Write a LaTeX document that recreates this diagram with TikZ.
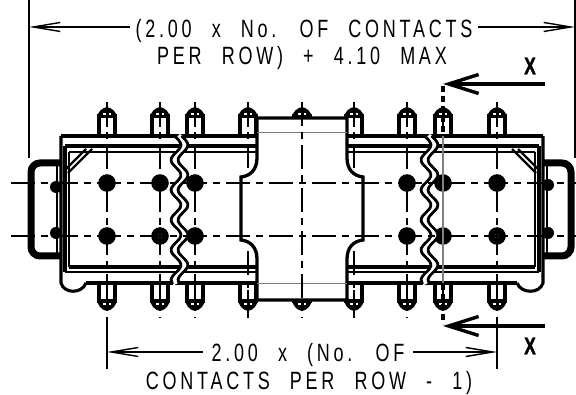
\documentclass[tikz,border=0pt]{standalone}
\usepackage{fontspec}
\usetikzlibrary{arrows.meta}
\setmainfont{Liberation Sans}[FakeStretch=0.72,LetterSpace=15,WordSpace=2.3]
\newfontfamily\boldx{Liberation Sans Bold}[FakeStretch=0.72,FakeBold=1.5]
\tikzset{
  label text/.style={font=\fontsize{25}{25}\selectfont,inner ysep=0pt,inner xsep=5pt,text depth=0pt},
  section letter/.style={font=\boldx\fontsize{24}{24}\selectfont,inner sep=0pt},
  dimline/.style={line width=1.5pt,-{Straight Barb[length=27pt,width=9pt,line width=1.4pt]}},
  extline/.style={line width=1.8pt},
  sectarrow/.style={line width=3.4pt,-{Straight Barb[length=30pt,width=19pt,line width=3.4pt]}},
  sectline/.style={line width=3.2pt,dash pattern=on 6pt off 4pt},
  centre/.style={line width=1.7pt,dash pattern=on 24pt off 6pt on 7pt off 6pt},
  heavy/.style={line width=3.1pt},
  medium/.style={line width=2.4pt},
  wave/.style={line width=2.8pt},
  latch/.style={line width=7pt,rounded corners=9pt},
}
\newcommand{\wavepath}[2]{plot[smooth,domain=136:284,samples=34,variable=\t]({#1+5*sin(12*(\t-167.5))+#2},\t)}
\begin{document}
\begin{tikzpicture}[x=1pt,y=-1pt]
\useasboundingbox (0,0) rectangle (576,395);
\fill[white] (0,0) rectangle (576,395);

% pins
\foreach \px in {107,160,195,248,302,354,407,443,497}{
  \draw[heavy,fill=white] (\px-8,136) -- (\px-8,116) -- (\px+8,116) -- (\px+8,136);
  \fill (\px-9.5,117) .. controls (\px-9.5,112) and (\px-5,108) .. (\px,107) .. controls (\px+5,108) and (\px+9.5,112) .. (\px+9.5,117) -- cycle;
  \fill[white] (\px-4,113) rectangle (\px-1.5,115);
  \fill[white] (\px+1.5,113) rectangle (\px+4,115);
  \draw[heavy,fill=white] (\px-8,283) -- (\px-8,301) -- (\px+8,301) -- (\px+8,283);
  \fill (\px-9.5,300) .. controls (\px-9.5,306) and (\px-5,310) .. (\px,311) .. controls (\px+5,310) and (\px+9.5,306) .. (\px+9.5,300) -- cycle;
  \fill[white] (\px-4,303) rectangle (\px-1.5,305);
  \fill[white] (\px+1.5,303) rectangle (\px+4,305);
  \draw[line width=2pt] (\px,116) -- (\px,127);
  \draw[line width=2pt] (\px,290) -- (\px,301);
}

% housing
\draw[heavy] (61,136) -- (543,136);
\draw[heavy,line width=3.6pt] (65,146) -- (539,146);
\draw[medium] (69,152) -- (535,152);
\draw[heavy] (69,267) -- (535,267);
\draw[medium] (65,272) -- (539,272);
\draw[heavy] (86,283) -- (517,283);
\draw[heavy] (61,136) -- (61,283) .. controls (64,294) and (82,294) .. (86,283);
\draw[heavy] (543,136) -- (543,283) .. controls (540,294) and (521,294) .. (517,283);
\draw[heavy] (65,146) -- (65,272);
\draw[medium] (69,152) -- (69,267);
\draw[heavy] (539,146) -- (539,272);
\draw[medium] (535,152) -- (535,267);
\draw[medium] (92,149) -- (68,173);
\draw[medium] (86,149) -- (65,170);
\draw[medium] (512,149) -- (536,173);
\draw[medium] (518,149) -- (539,170);

% latches
\draw[latch] (61,163) -- (31,163) -- (31,256) -- (61,256);
\draw[latch] (543,163) -- (571,163) -- (571,256) -- (543,256);
\draw[medium] (57,162) -- (57,256);
\draw[medium] (547,162) -- (547,256);
\foreach \cx/\cy in {56/187,56/233,548/185,548/233} \fill (\cx,\cy) circle (6);

% holes
\foreach \px in {107,160,195,407,443,497}{
  \fill (\px,183) circle (8.8);
  \fill (\px,236) circle (8.8);
}
\fill[white] (160,236) circle (2);
\fill[white] (497,236) circle (2);

% break lines
\foreach \wx in {176,426}{
  \draw[white,line width=6pt] \wavepath{\wx}{3.5};
  \draw[wave] \wavepath{\wx}{0};
  \draw[wave] \wavepath{\wx}{7};
}

% centre block
\draw[heavy,fill=white,line width=3.3pt] (257,118) -- (257,158) .. controls (257,170) and (250,176) .. (241,177)
  -- (241,240) .. controls (250,241) and (257,247) .. (257,259) -- (257,300) -- (347,300) -- (347,259)
  .. controls (347,247) and (354,241) .. (363,240) -- (363,177) .. controls (354,176) and (347,170) .. (347,158)
  -- (347,118) -- cycle;
\draw[gray,line width=1pt] (257,133) -- (347,133);
\draw[gray,line width=1pt] (257,284) -- (347,284);

% centre lines
\draw[centre] (11,183) -- (576,183);
\draw[centre] (11,236) -- (576,236);
\foreach \px in {107,160,195,302,407,497}{
  \draw[centre] (\px,102) -- (\px,318);
}
\foreach \px in {248,354}{
  \draw[centre] (\px,102) -- (\px,168);
  \draw[centre] (\px,318) -- (\px,250);
}
\draw[gray,line width=1.5pt] (443,136) -- (443,283);

% section line
\coordinate (secTop) at (443,84);
\coordinate (secBot) at (443,326);
\coordinate (secTopEnd) at (545,84);
\coordinate (secBotEnd) at (545,326);
\draw[sectline] (443,86) -- (443,133);
\draw[sectline] (443,284) -- (443,324);
\draw[sectarrow] (secTopEnd) -- (secTop);
\draw[sectarrow] (secBotEnd) -- (secBot);
\node[section letter] (xa) at (530,66) {X};
\node[section letter] (xb) at (530,346) {X};

% top dimension
\coordinate (extLa) at (29,0);
\coordinate (extLb) at (29,158);
\coordinate (extRa) at (575,0);
\coordinate (extRb) at (575,158);
\draw[extline] (extLa) -- (extLb);
\draw[extline] (extRa) -- (extRb);
\node[label text,anchor=base] (t1) at (304,38) {(2.00 x No. OF CONTACTS};
\node[label text,anchor=base] (t2) at (302,65) {PER ROW) + 4.10 MAX};
\coordinate (dimTL) at (29,27);
\coordinate (dimTR) at (575,27);
\draw[dimline] (t1.west |- dimTL) -- (dimTL);
\draw[dimline] (t1.east |- dimTR) -- (dimTR);

% bottom dimension
\coordinate (extBLa) at (107,318);
\coordinate (extBLb) at (107,369);
\coordinate (extBRa) at (497,318);
\coordinate (extBRb) at (497,369);
\draw[extline] (extBLa) -- (extBLb);
\draw[extline] (extBRa) -- (extBRb);
\node[label text,anchor=base,inner xsep=9pt] (t3) at (308,362) {2.00 x (No. OF};
\node[label text,anchor=base] (t4) at (309,390) {CONTACTS PER ROW - 1)};
\coordinate (dimBL) at (107,352);
\coordinate (dimBR) at (497,352);
\draw[dimline] (t3.west |- dimBL) -- (dimBL);
\draw[dimline] (t3.east |- dimBR) -- (dimBR);
\end{tikzpicture}
\end{document}
